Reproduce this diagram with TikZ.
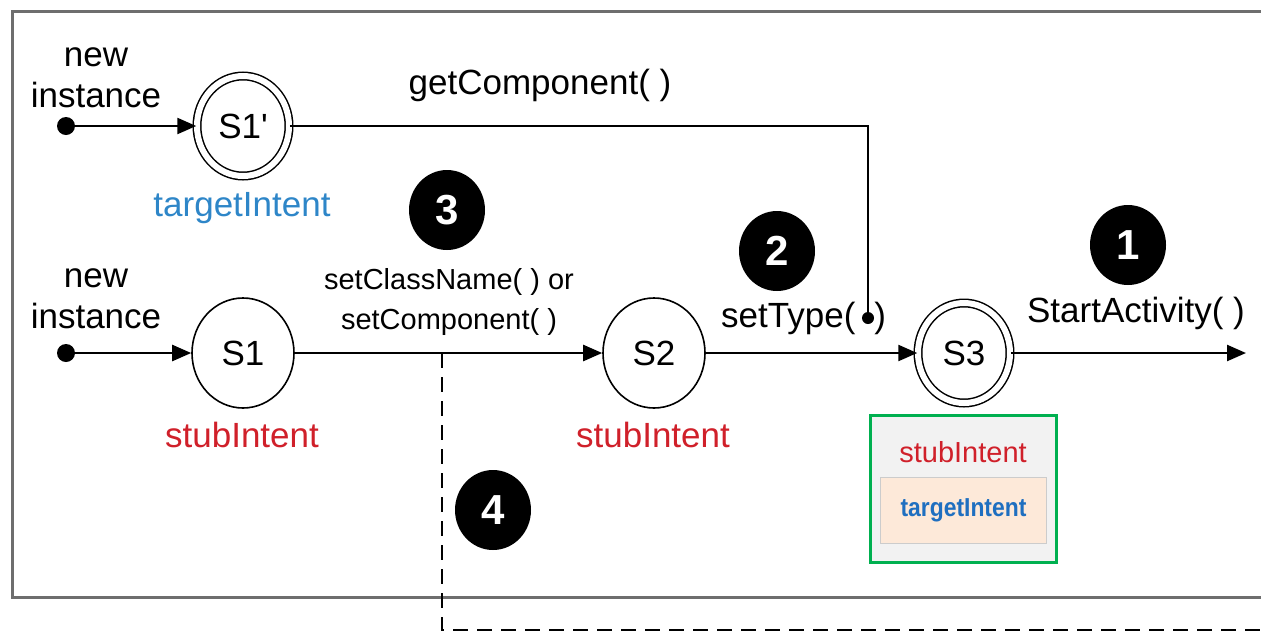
\documentclass[tikz,border=0pt]{standalone}
\usepackage{fontspec}
\setmainfont{Liberation Sans}
\usetikzlibrary{arrows.meta,shapes.geometric}
\definecolor{stubred}{HTML}{D0202A}
\definecolor{tgtblue}{HTML}{2E86C8}
\definecolor{tgtbold}{HTML}{1F6FC0}
\definecolor{boxgreen}{HTML}{00B050}
\definecolor{boxgray}{HTML}{F2F2F2}
\definecolor{peach}{HTML}{FDE9D9}
\definecolor{framegray}{HTML}{6E6E6E}
\tikzset{
  fs/.style={font=\fontsize{#1}{#1}\selectfont},
  statenode/.style={draw, line width=1.6pt, ellipse, minimum width=102pt, minimum height=110pt, inner sep=0pt, fs=35},
  finalnode/.style={draw, line width=1.5pt, double=white, double distance=6pt, ellipse, minimum width=92pt, minimum height=100pt, inner sep=0pt, fs=35},
  startdot/.style={circle, fill=black, minimum size=18pt, inner sep=0pt},
  smalldot/.style={circle, fill=black, minimum size=12pt, inner sep=0pt},
  badge/.style={ellipse, fill=black, minimum width=76pt, minimum height=80pt, inner sep=0pt, text=white, font=\fontsize{42}{42}\selectfont\bfseries},
  conn/.style={line width=2.4pt, -{Triangle[length=19pt,width=16pt]}},
  plainline/.style={line width=2.4pt},
  dashline/.style={line width=2.4pt, dash pattern=on 15pt off 9pt},
  lbl/.style={inner sep=0pt, fs=35},
  smalllbl/.style={inner sep=0pt, fs=29},
}
\begin{document}
\begin{tikzpicture}[x=1pt,y=-1pt]
\useasboundingbox (0,0) rectangle (1261,633);
\clip (0,0) rectangle (1261,633);
% outer frame (open to the right)
\draw[framegray, line width=3pt] (1290,11) -- (12,11) -- (12,597) -- (1290,597);

% top row
\node[startdot] (d1) at (66,126) {};
\node[finalnode] (S1p) at (243,126) {S1\textquotesingle};
\node[lbl, align=center] (ni1) at (96,78) {new\\[6pt]instance};
\node[lbl, text=tgtblue] (tl) at (242,208) {targetIntent};
\node[lbl] (gc) at (540,85) {getComponent( )};
\node[smalldot] (sd) at (868,318) {};

% bottom row
\node[startdot] (d2) at (66,353) {};
\node[statenode] (S1) at (243,353) {S1};
\node[statenode] (S2) at (654,353) {S2};
\node[finalnode] (S3) at (964,353) {S3};
\coordinate (endc) at (1246,353);
\node[lbl, align=center] (ni2) at (96,299) {new\\[6pt]instance};
\node[lbl, text=stubred] (st1) at (242,435) {stubIntent};
\node[lbl, text=stubred] (st2) at (653,435) {stubIntent};
\node[smalllbl, align=center] (scn) at (449,302) {setClassName( ) or\\[11pt]setComponent( )};
\node[lbl, anchor=west] (stype) at (721,318) {setType(\hspace{19pt})};
\node[lbl] (sa) at (1136,313) {StartActivity( )};

% badges
\node[badge] (b3) at (447,210) {3};
\node[badge] (b2) at (777,251) {2};
\node[badge] (b1) at (1128,245) {1};
\node[badge] (b4) at (493,510) {4};

% result box
\node[draw=boxgreen, line width=3pt, fill=boxgray, minimum width=186pt, minimum height=147pt, inner sep=0pt] (gbox) at (963.5,489) {};
\node[draw=black!20, line width=1pt, fill=peach, minimum width=166pt, minimum height=66pt, inner sep=0pt, text=tgtbold, font=\fontsize{26}{26}\selectfont\bfseries] (pbox) at (963.5,510) {\scalebox{0.88}[1]{targetIntent}};
\node[smalllbl, text=stubred] (st3) at (963,452) {stubIntent};

% connectors
\draw[conn] (d1) -- (S1p);
\draw[plainline] (S1p) -- (S1p -| sd) -- (sd);
\draw[conn] (d2) -- (S1);
\draw[conn] (S1) -- (S2);
\draw[conn] (S2) -- (S3);
\draw[conn] (S3) -- (endc);
\coordinate (bra) at (442,353);
\coordinate (dc) at (442,630);
\coordinate (dend) at (1290,630);
\draw[dashline] (bra) -- (dc) -- (dend);
\end{tikzpicture}
\end{document}
